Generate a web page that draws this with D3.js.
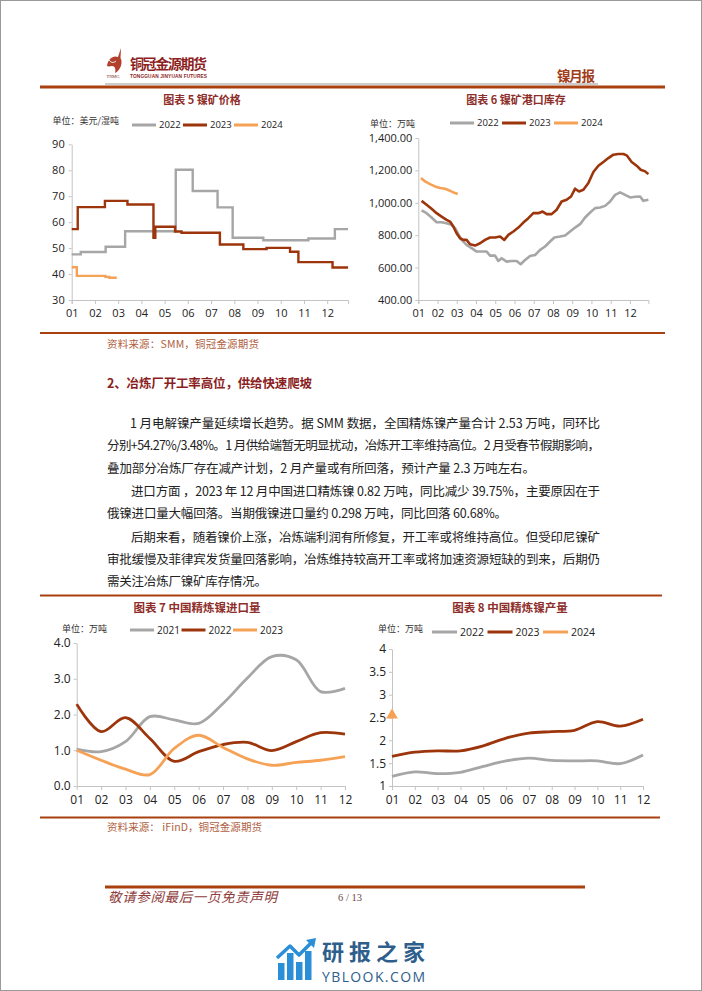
<!DOCTYPE html>
<html><head><meta charset="utf-8">
<script src="https://cdn.jsdelivr.net/npm/d3@7"></script>
<style>html,body{margin:0;padding:0;background:#fff}svg{display:block}</style>
</head><body>
<svg id="page" width="702" height="991"></svg>
<script>
// ---------------- DATA ----------------
const months = ["01","02","03","04","05","06","07","08","09","10","11","12"];

// Chart 5: 镍矿价格 (美元/湿吨), step changes as [month position, value]
const orePrice2022 = [[0,47.6],[0.39,48.5],[1.46,50.5],[2.3,56.5],[4.48,80.2],[5.21,72.0],[6.28,65.7],[6.93,54.0],[8.25,53.0],[10.19,53.7],[11.33,57.3],[11.9,57.3]];
const orePrice2023 = [[0,57.3],[0.26,65.8],[1.43,68.2],[2.4,66.8],[3.52,54.0],[3.6,58.2],[4.45,56.4],[4.73,55.9],[6.38,51.4],[7.39,49.6],[8.39,50.1],[9.4,48.6],[9.76,44.6],[11.23,42.5],[11.9,42.5]];
const orePrice2024 = [[0,42.6],[0.22,39.3],[1.45,38.9],[1.62,38.6],[1.94,38.6]];

// Chart 6: 镍矿港口库存 (万吨), weekly readings as [month position, value]
const portStock2022 = [[0.17,953],[0.43,936],[0.69,909],[0.95,880],[1.21,880],[1.47,874],[1.73,864],[1.91,843],[2.08,806],[2.25,771],[2.51,740],[2.77,720],[3.03,699],[3.29,699],[3.55,699],[3.73,674],[3.99,674],[4.16,641],[4.33,658],[4.59,637],[4.85,641],[5.11,641],[5.32,621],[5.55,647],[5.81,672],[6.07,678],[6.33,709],[6.59,730],[6.85,761],[7.07,786],[7.37,792],[7.63,798],[7.89,823],[8.15,847],[8.41,868],[8.67,909],[8.93,940],[9.19,967],[9.45,971],[9.71,981],[9.97,1008],[10.23,1049],[10.49,1064],[10.75,1049],[11.01,1033],[11.27,1037],[11.53,1039],[11.70,1012],[11.96,1019]];
const portStock2023 = [[0.17,1012],[0.43,988],[0.69,963],[0.95,936],[1.21,915],[1.47,895],[1.65,884],[1.82,854],[1.99,812],[2.17,781],[2.34,771],[2.51,771],[2.69,744],[2.95,736],[3.21,750],[3.47,771],[3.73,786],[3.99,786],[4.25,792],[4.47,771],[4.68,802],[4.94,823],[5.2,847],[5.46,878],[5.72,905],[5.98,936],[6.24,936],[6.46,946],[6.67,930],[6.93,930],[7.19,957],[7.45,1008],[7.71,1019],[7.94,1039],[8.15,1087],[8.35,1070],[8.58,1080],[8.84,1122],[9.1,1190],[9.36,1229],[9.62,1252],[9.88,1276],[10.14,1297],[10.4,1301],[10.66,1301],[10.83,1293],[11.09,1252],[11.35,1229],[11.56,1204],[11.79,1194],[11.96,1177]];
const portStock2024 = [[0.14,1153],[0.35,1132],[0.61,1115],[0.87,1101],[1.13,1091],[1.39,1087],[1.65,1074],[1.91,1060],[2.05,1054]];

// Chart 7: 中国精炼镍进口量 (万吨)
const import2021 = [1.03,0.96,1.24,1.94,1.85,1.75,2.31,3.02,3.62,3.53,2.64,2.73];
const import2022 = [2.29,1.52,1.91,1.33,0.69,0.96,1.16,1.22,0.99,1.24,1.49,1.45];
const import2023 = [1.00,0.72,0.47,0.32,1.05,1.42,1.08,0.76,0.58,0.66,0.72,0.82];

// Chart 8: 中国精炼镍产量 (万吨)
const output2022 = [1.21,1.31,1.27,1.30,1.43,1.55,1.61,1.56,1.55,1.55,1.49,1.68];
const output2023 = [1.65,1.74,1.77,1.77,1.88,2.05,2.16,2.19,2.22,2.41,2.31,2.46];
const output2024 = [2.55];

const ticks5 = [30,40,50,60,70,80,90];
const ticks6 = [400,600,800,1000,1200,1400];
const ticks7 = [0,1,2,3,4];
const ticks8 = [1,1.5,2,2.5,3,3.5,4];

const bodyLines = [
  "1 月电解镍产量延续增长趋势。据 SMM 数据，全国精炼镍产量合计 2.53 万吨，同环比",
  "分别+54.27%/3.48%。1 月供给端暂无明显扰动，冶炼开工率维持高位。2 月受春节假期影响，",
  "叠加部分冶炼厂存在减产计划，2 月产量或有所回落，预计产量 2.3 万吨左右。",
  "进口方面 ，2023 年 12 月中国进口精炼镍 0.82 万吨，同比减少 39.75%，主要原因在于",
  "俄镍进口量大幅回落。当期俄镍进口量约 0.298 万吨，同比回落 60.68%。",
  "后期来看，随着镍价上涨，冶炼端利润有所修复，开工率或将维持高位。但受印尼镍矿",
  "审批缓慢及菲律宾发货量回落影响，冶炼维持较高开工率或将加速资源短缺的到来，后期仍",
  "需关注冶炼厂镍矿库存情况。"
];

// ---------------- STYLE ----------------
const CJK = "'Noto Sans CJK SC','Noto Sans',sans-serif";
const NUM = "'Open Sans','Noto Sans',sans-serif";
const GRAY = "#A6A6A6", RED = "#9C350B", ORANGE = "#F5A257";
const BRICK = "#A8400F", TITLE = "#8E2E2A", AXIS = "#C4C4C4";

const svg = d3.select("#page");
svg.append("rect").attr("x",0.5).attr("y",0.5).attr("width",701).attr("height",990)
  .attr("fill","#fff").attr("stroke","#9a9a9a").attr("stroke-width",1);

function hline(x1,x2,y,color,w){
  svg.append("line").attr("x1",x1).attr("x2",x2).attr("y1",y).attr("y2",y)
    .attr("stroke",color).attr("stroke-width",w);
}
function text(x,y,str,o={}){
  const t = svg.append("text").attr("x",x).attr("y",y).text(str)
    .attr("font-family",o.family||CJK).attr("font-size",o.size||12)
    .attr("fill",o.fill||"#222").attr("text-anchor",o.anchor||"start");
  if(o.weight) t.attr("font-weight",o.weight);
  if(o.style) t.attr("font-style",o.style);
  if(o.len) t.attr("textLength",o.len).attr("lengthAdjust","spacing");
  return t;
}

// ---------------- HEADER ----------------
svg.append("path")
  .attr("d","M107,66 C108,59 113,55 118,57 L121,48 L120.5,58 C123,62 121,70 115,73 C116,69 115,66 112,66 C110,66 108.5,67 107,66 Z")
  .attr("fill","#B2402C");
svg.append("path").attr("d","M109,60 C111,63 114,63 116,61").attr("stroke","#fff").attr("stroke-width",1).attr("fill","none");
text(106.5,77.5,"TNMG",{size:4.6,family:"'Liberation Serif',serif",fill:"#7a2a20",len:13});
text(130,68.5,"铜冠金源期货",{size:14,weight:"bold",fill:"#8E1F1F",len:77});
text(130,77.5,"TONGGUAN JINYUAN FUTURES",{size:4.8,weight:"bold",family:"'Liberation Sans',sans-serif",fill:"#8E1F1F",len:77});
text(557,80.5,"镍月报",{size:13.5,weight:"bold",fill:"#A23C18",len:38});
hline(105,598,84,"#9a9a9a",1);
hline(40,665,87,BRICK,3);

// ---------------- helpers ----------------
function styleAxis(g,size){
  g.attr("font-size",null).attr("font-family",null);
  g.select(".domain").attr("stroke",AXIS).attr("stroke-width",1);
  g.selectAll(".tick line").attr("stroke",AXIS);
  g.selectAll(".tick text").attr("font-family",NUM).attr("font-size",size).attr("fill","#222");
}
function legend(items,x0,step,lineLen,y,size){
  items.forEach((it,i)=>{
    const x = x0 + i*step;
    svg.append("line").attr("x1",x).attr("x2",x+lineLen).attr("y1",y).attr("y2",y)
      .attr("stroke",it.color).attr("stroke-width",3);
    text(x+lineLen+3,y+size*0.36,it.name,{family:NUM,size:size,fill:"#222"});
  });
}

// ---------------- CHART 5 ----------------
{
  const x = d3.scaleLinear().domain([0,11.9]).range([71.7,348.1]);
  const y = d3.scaleLinear().domain([30,90]).range([300,144.3]);
  text(202,104,"图表 5  镍矿价格",{size:11,weight:"bold",fill:TITLE,anchor:"middle"});
  text(52.5,124,"单位：美元/湿吨",{size:9,fill:"#333"});
  legend([{name:"2022",color:GRAY},{name:"2023",color:RED},{name:"2024",color:ORANGE}],132,51,24,125,9.5);
  const gx = svg.append("g").attr("transform","translate(0,300)")
    .call(d3.axisBottom(x).tickValues(d3.range(12)).tickFormat(i=>months[i]).tickSize(4).tickSizeOuter(4).tickPadding(5));
  styleAxis(gx,11);
  const gy = svg.append("g").attr("transform","translate(71.7,0)")
    .call(d3.axisLeft(y).tickValues(ticks5).tickSize(3).tickSizeOuter(0).tickPadding(4));
  styleAxis(gy,11);
  const line = d3.line().x(d=>x(d[0])).y(d=>y(d[1])).curve(d3.curveStepAfter);
  [[orePrice2022,GRAY],[orePrice2023,RED],[orePrice2024,ORANGE]].forEach(([d,c])=>{
    svg.append("path").datum(d).attr("d",line).attr("fill","none").attr("stroke",c)
      .attr("stroke-width",2.4).attr("stroke-linejoin","miter");
  });
}

// ---------------- CHART 6 ----------------
{
  const x = d3.scaleLinear().domain([0,11.96]).range([418.3,648.4]);
  const y = d3.scaleLinear().domain([400,1400]).range([300,138]);
  text(516,104,"图表 6 镍矿港口库存",{size:11,weight:"bold",fill:TITLE,anchor:"middle"});
  text(370,126.5,"单位：万吨",{size:9,fill:"#333"});
  legend([{name:"2022",color:GRAY},{name:"2023",color:RED},{name:"2024",color:ORANGE}],450,52,24,123,9.5);
  const gx = svg.append("g").attr("transform","translate(0,300)")
    .call(d3.axisBottom(x).tickValues(d3.range(12)).tickFormat(i=>months[i]).tickSize(4).tickSizeOuter(4).tickPadding(5));
  styleAxis(gx,11);
  const gy = svg.append("g").attr("transform","translate(418.3,0)")
    .call(d3.axisLeft(y).tickValues(ticks6).tickFormat(d3.format(",.2f")).tickSize(3).tickSizeOuter(0).tickPadding(3));
  styleAxis(gy,11);
  const line = d3.line().x(d=>x(d[0])).y(d=>y(d[1]));
  [[portStock2022,GRAY],[portStock2023,RED],[portStock2024,ORANGE]].forEach(([d,c])=>{
    svg.append("path").datum(d).attr("d",line).attr("fill","none").attr("stroke",c)
      .attr("stroke-width",2.6).attr("stroke-linejoin","round");
  });
}

hline(40,665,333,BRICK,2.2);
text(107,348,"资料来源：SMM，铜冠金源期货",{size:10.5,fill:"#B0603E",len:152});

// ---------------- TEXT ----------------
text(107,388,"2、冶炼厂开工率高位，供给快速爬坡",{size:12.5,weight:"bold",fill:"#8B1E1E",len:205});
const lineLayout = [
  {x:130,len:470},{x:107,len:493},{x:107,len:428},{x:131,len:469},
  {x:107,len:400},{x:131,len:469},{x:107,len:493},{x:107,len:160}
];
const rowY = [428,450,472.5,496,518,542,564,586];
bodyLines.forEach((s,i)=>{
  text(lineLayout[i].x,rowY[i],s,{size:12.5,fill:"#222",len:lineLayout[i].len});
});

hline(40,662,595.5,BRICK,2.2);

// ---------------- CHART 7 ----------------
{
  const x = d3.scalePoint().domain(months).range([76.7,345]);
  const y = d3.scaleLinear().domain([0,4]).range([786,643]);
  text(197,612,"图表 7  中国精炼镍进口量",{size:11.5,weight:"bold",fill:TITLE,anchor:"middle"});
  text(62,631.5,"单位：万吨",{size:9,fill:"#333"});
  legend([{name:"2021",color:GRAY},{name:"2022",color:RED},{name:"2023",color:ORANGE}],130,51.5,24,630,10);
  const gx = svg.append("g").attr("transform","translate(0,786)")
    .call(d3.axisBottom(x).tickSize(4).tickSizeOuter(0).tickPadding(5));
  styleAxis(gx,12);
  const gy = svg.append("g").attr("transform","translate(76.7,0)")
    .call(d3.axisLeft(y).tickValues(ticks7).tickFormat(d3.format(".1f")).tickSize(3).tickSizeOuter(0).tickPadding(3));
  styleAxis(gy,12);
  const line = d3.line().x((d,i)=>x(months[i])).y(d=>y(d)).curve(d3.curveCatmullRom.alpha(0.5));
  [[import2021,GRAY],[import2022,RED],[import2023,ORANGE]].forEach(([d,c])=>{
    svg.append("path").datum(d).attr("d",line).attr("fill","none").attr("stroke",c).attr("stroke-width",2.8);
  });
}

// ---------------- CHART 8 ----------------
{
  const x = d3.scalePoint().domain(months).range([392,643]);
  const y = d3.scaleLinear().domain([1,4]).range([786,649]);
  text(510,612,"图表 8  中国精炼镍产量",{size:11.5,weight:"bold",fill:TITLE,anchor:"middle"});
  text(378,631.5,"单位：万吨",{size:9,fill:"#333"});
  legend([{name:"2022",color:GRAY},{name:"2023",color:RED},{name:"2024",color:ORANGE}],432,55.5,25,632,10.5);
  const gx = svg.append("g").attr("transform","translate(0,786)")
    .call(d3.axisBottom(x).tickSize(4).tickSizeOuter(0).tickPadding(5));
  styleAxis(gx,12);
  const gy = svg.append("g").attr("transform","translate(392,0)")
    .call(d3.axisLeft(y).tickValues(ticks8).tickFormat(d=>String(d)).tickSize(3).tickSizeOuter(0).tickPadding(3));
  styleAxis(gy,12);
  const line = d3.line().x((d,i)=>x(months[i])).y(d=>y(d)).curve(d3.curveCatmullRom.alpha(0.5));
  [[output2022,GRAY],[output2023,RED]].forEach(([d,c])=>{
    svg.append("path").datum(d).attr("d",line).attr("fill","none").attr("stroke",c).attr("stroke-width",2.8);
  });
  svg.selectAll(".tri").data(output2024).enter().append("path")
    .attr("d",d3.symbol().type(d3.symbolTriangle).size(60))
    .attr("transform",(d,i)=>`translate(${x(months[i])},${y(d)})`)
    .attr("fill",ORANGE);
}

hline(40,660,817.5,BRICK,2.2);
text(107,831,"资料来源：  iFinD，铜冠金源期货",{size:10.5,fill:"#B0603E",len:155});

// ---------------- FOOTER ----------------
hline(105,585,887,BRICK,3);
text(108,902,"敬请参阅最后一页免责声明",{size:13.5,style:"italic",fill:"#8E3B3B",len:169});
text(350,901,"6 / 13",{size:10.5,family:"'Liberation Serif',serif",fill:"#6B4A4A",anchor:"middle"});

// watermark
const wm = svg.append("g");
[[278,963],[287,953],[296,962],[305,951]].forEach(([bx,by])=>{
  wm.append("rect").attr("x",bx).attr("y",by).attr("width",6.5).attr("height",980-by).attr("fill","#2A8FD6");
});
wm.append("polyline").attr("points","277,958 290,946 299,955 312,942")
  .attr("fill","none").attr("stroke","#2A8FD6").attr("stroke-width",3.5).attr("stroke-linejoin","round");
wm.append("path").attr("d","M316,938 L306,940 L314,948 Z").attr("fill","#2A8FD6");
text(322,960,"研报之家",{size:22,weight:"bold",fill:"#2E5E8C",len:103});
text(322,982,"YBLOOK.COM",{size:14,family:NUM,fill:"#2E5E8C",len:103});
</script>
</body></html>
